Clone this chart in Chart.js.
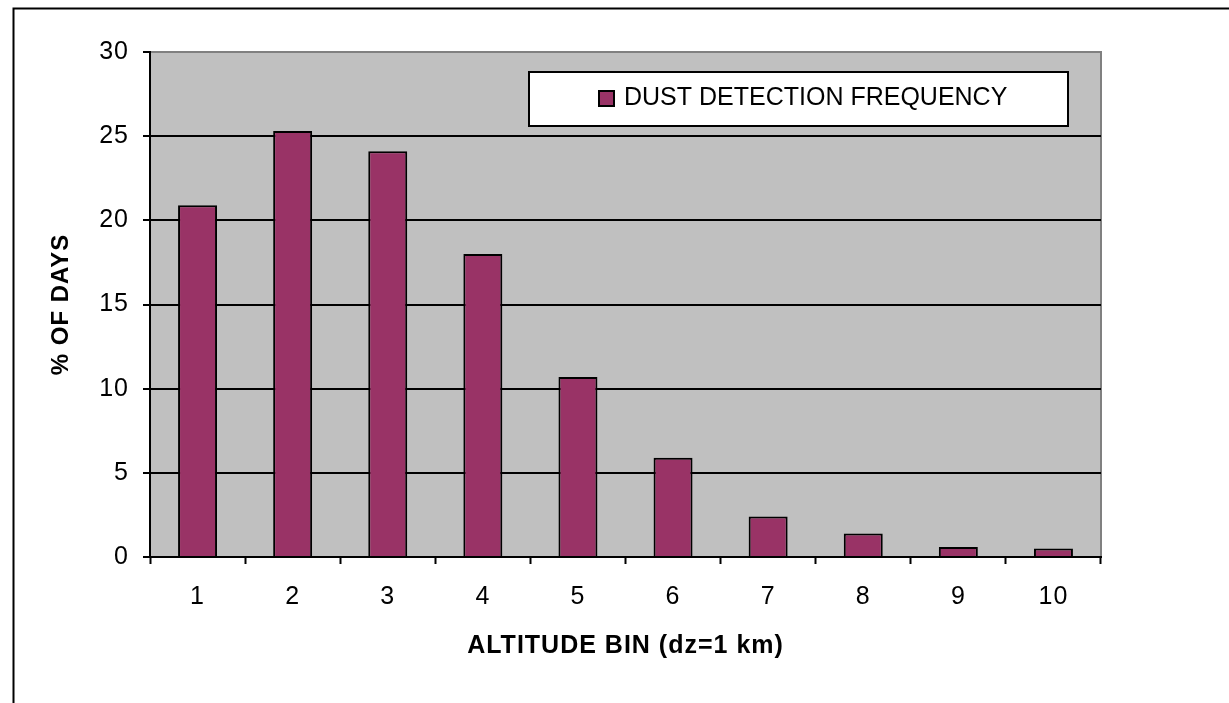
<!DOCTYPE html>
<html>
<head>
<meta charset="utf-8">
<script src="https://cdn.jsdelivr.net/npm/chart.js@4/dist/chart.umd.min.js"></script>
<style>
  html, body { margin: 0; padding: 0; background: #ffffff; }
  #wrap { position: absolute; left: 0; top: 0; width: 1229px; height: 703px; }
</style>
</head>
<body>
<div id="wrap"><canvas id="c" width="1229" height="703"></canvas></div>
<script>
// Altitude bins (1 km each) and the share of days with dust detected in each
const altitudeBins = ['1', '2', '3', '4', '5', '6', '7', '8', '9', '10'];
const detectionPct = [20.9, 25.3, 24.1, 18.0, 10.7, 5.9, 2.4, 1.4, 0.6, 0.5];
const seriesLabel = 'DUST DETECTION FREQUENCY';
const yTitle = '% OF DAYS';
const xTitle = 'ALTITUDE BIN (dz=1 km)';
const yMin = 0, yMax = 30, yStep = 5;

const FONT = '"Liberation Sans", Arial, sans-serif';
const BAR_COLOR = '#993366';
const PLOT_BG = '#C0C0C0';

// Gray plot background, gray top/right frame and the outer page frame
const framePlugin = {
  id: 'frame',
  beforeDraw(chart) {
    const { ctx, chartArea: a } = chart;
    ctx.save();
    ctx.fillStyle = '#ffffff';
    ctx.fillRect(0, 0, chart.width, chart.height);
    ctx.fillStyle = PLOT_BG;
    ctx.fillRect(a.left, a.top, a.right - a.left, a.bottom - a.top);
    ctx.strokeStyle = '#808080';
    ctx.lineWidth = 2;
    ctx.beginPath();
    ctx.moveTo(a.left, a.top);
    ctx.lineTo(a.right, a.top);
    ctx.lineTo(a.right, a.bottom);
    ctx.stroke();
    // outer chart border
    ctx.strokeStyle = '#000000';
    ctx.lineWidth = 2;
    ctx.beginPath();
    ctx.moveTo(13.5, chart.height + 2);
    ctx.lineTo(13.5, 8.5);
    ctx.lineTo(chart.width + 2, 8.5);
    ctx.stroke();
    ctx.restore();
    // axis text is set slightly wide
    ctx.letterSpacing = '1px';
  }
};

// Boxed legend placed inside the plot area
const boxLegendPlugin = {
  id: 'boxLegend',
  afterDraw(chart) {
    const { ctx } = chart;
    const ds = chart.data.datasets[0];
    const box = { x: 529, y: 72, w: 539, h: 54 };
    ctx.save();
    ctx.letterSpacing = '0px';
    ctx.fillStyle = '#ffffff';
    ctx.fillRect(box.x, box.y, box.w, box.h);
    ctx.strokeStyle = '#000000';
    ctx.lineWidth = 2;
    ctx.strokeRect(box.x, box.y, box.w, box.h);
    ctx.fillStyle = ds.backgroundColor;
    ctx.fillRect(599, 91, 15, 15);
    ctx.lineWidth = 2;
    ctx.strokeRect(599, 91, 15, 15);
    ctx.fillStyle = '#000000';
    ctx.font = '25px ' + FONT;
    ctx.textBaseline = 'middle';
    ctx.textAlign = 'left';
    ctx.fillText(ds.label, 624, 98);
    ctx.restore();
  }
};

new Chart(document.getElementById('c'), {
  type: 'bar',
  data: {
    labels: altitudeBins,
    datasets: [{
      label: seriesLabel,
      data: detectionPct,
      backgroundColor: BAR_COLOR,
      borderColor: '#000000',
      borderWidth: 2,
      barPercentage: 0.41,
      categoryPercentage: 1.0
    }]
  },
  options: {
    responsive: false,
    animation: false,
    devicePixelRatio: 1,
    layout: { padding: { top: 52, right: 128, left: 0, bottom: 0 } },
    plugins: {
      legend: { display: false },
      tooltip: { enabled: false }
    },
    scales: {
      x: {
        offset: true,
        grid: {
          offset: true,
          drawOnChartArea: false,
          drawTicks: true,
          tickLength: 7,
          tickWidth: 2,
          tickColor: '#000000'
        },
        border: { display: true, color: '#000000', width: 2 },
        ticks: {
          color: '#000000',
          font: { family: FONT, size: 25 },
          padding: 18,
          maxRotation: 0
        },
        title: {
          display: true,
          text: xTitle,
          color: '#000000',
          font: { family: FONT, size: 25, weight: 'bold' },
          padding: { top: 0, bottom: 42 }
        },
        afterFit(scale) { scale.height = 146; }
      },
      y: {
        min: yMin,
        max: yMax,
        ticks: {
          stepSize: yStep,
          color: '#000000',
          font: { family: FONT, size: 25 },
          padding: 14
        },
        grid: {
          color: (c) => (c.tick && c.tick.value === yMax) ? 'rgba(0,0,0,0)' : '#000000',
          lineWidth: 2,
          drawTicks: true,
          tickLength: 7,
          tickWidth: 2,
          tickColor: '#000000'
        },
        border: { display: true, color: '#000000', width: 2 },
        title: {
          display: true,
          text: yTitle,
          color: '#000000',
          font: { family: FONT, size: 24, weight: 'bold' },
          padding: { top: 47, bottom: 0 }
        },
        afterFit(scale) { scale.width = 150; }
      }
    }
  },
  plugins: [framePlugin, boxLegendPlugin]
});
</script>
</body>
</html>
